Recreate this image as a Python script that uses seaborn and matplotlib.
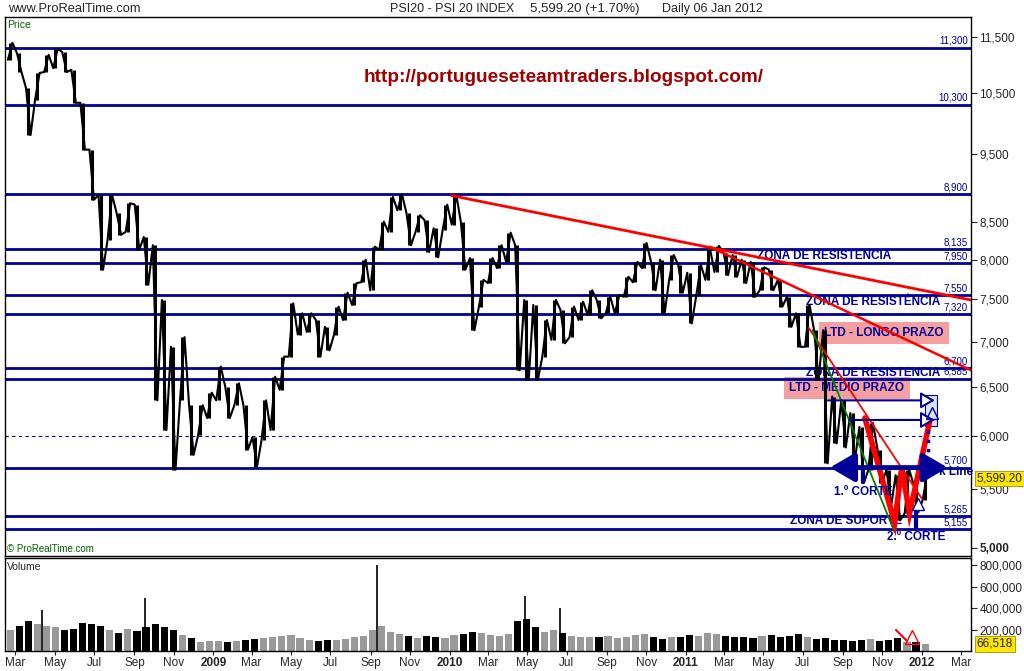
import matplotlib
matplotlib.use("Agg")
import matplotlib.pyplot as plt
import matplotlib.dates as mdates
from matplotlib.patches import Rectangle
from matplotlib.ticker import FixedLocator, NullLocator, FuncFormatter
import numpy as np
import pandas as pd
import seaborn as sns

# PSI 20, two-week price ranges (22 Feb 2008 .. 06 Jan 2012)
period_high = [11390, 11200, 10580, 10845, 11170, 11280, 11220, 10900, 10330, 9570,
               8890, 8890, 8630, 8770, 8750, 8300, 8190, 7490, 6940, 7050,
               6310, 6310, 6440, 6720, 6500, 6540, 6310, 5990, 6360, 6610,
               6830, 7450, 7330, 7330, 7250, 7170, 7410, 7580, 7700, 8000,
               8170, 8510, 8860, 8900, 8630, 8600, 8530, 8420, 8750, 8890,
               8510, 8020, 7740, 8020, 8190, 8360, 8190, 7490, 7430, 7250,
               7490, 7370, 7410, 7470, 7610, 7490, 7530, 7550, 7780, 7970,
               8220, 7970, 8000, 8060, 7930, 7830, 7930, 8150, 8180, 8090,
               8060, 8000, 7970, 7900, 7870, 7740, 7530, 7330, 7430, 7130,
               7130, 6400, 6360, 6230, 6090, 6130, 5870, 5680, 5630, 5680,
               5540, 5650]
period_low = [11080, 10860, 9800, 10380, 10860, 10930, 10860, 10330, 9570, 8820,
              7870, 8260, 8330, 8370, 8130, 7680, 6360, 6060, 5680, 6360,
              5820, 6010, 6180, 6360, 6180, 6310, 5870, 5710, 5960, 6060,
              6470, 6830, 7080, 7110, 6830, 6900, 7080, 7250, 7430, 7710,
              7610, 8130, 8370, 8670, 8190, 8370, 8100, 8030, 8400, 8470,
              7870, 7130, 7410, 7700, 7890, 7970, 6680, 6575, 6575, 6830,
              7020, 6980, 7050, 7250, 7310, 7270, 7330, 7330, 7530, 7710,
              7890, 7610, 7330, 7740, 7580, 7210, 7550, 7740, 7840, 7800,
              7780, 7700, 7530, 7610, 7610, 7410, 7170, 6940, 6940, 6575,
              5740, 5930, 5890, 5770, 5560, 5680, 5560, 5350, 5230, 5290,
              5300, 5410]
period_volume = [200000, 230000, 280000, 250000, 230000, 220000, 200000, 210000, 260000, 250000,
                 230000, 200000, 170000, 210000, 190000, 220000, 250000, 220000, 200000, 150000,
                 120000, 80000, 90000, 90000, 85000, 90000, 100000, 110000, 120000, 130000,
                 140000, 150000, 120000, 100000, 90000, 100000, 100000, 110000, 130000, 140000,
                 200000, 230000, 180000, 160000, 140000, 120000, 140000, 130000, 120000, 150000,
                 160000, 180000, 170000, 150000, 140000, 160000, 280000, 300000, 220000, 180000,
                 200000, 170000, 140000, 130000, 130000, 130000, 140000, 120000, 130000, 150000,
                 160000, 130000, 110000, 130000, 130000, 150000, 140000, 170000, 160000, 140000,
                 130000, 130000, 120000, 140000, 150000, 130000, 140000, 160000, 130000, 110000,
                 120000, 100000, 100000, 90000, 100000, 110000, 90000, 100000, 120000, 80000,
                 80000, 70000]
spike_dates = ["2008-04-11", "2008-09-18", "2009-09-11", "2010-04-28", "2010-06-21"]
spike_volume = [380000, 500000, 800000, 510000, 400000]
last_price = 5599.20
last_volume = 66518

level_values = [11300, 10300, 8900, 8135, 7950, 7550, 7320, 6700, 6585, 5700, 5265, 5155]
level_labels = ["11,300", "10,300", "8,900", "8,135", "7,950", "7,550", "7,320",
                "6,700", "6,585", "5,700", "5,265", "5,155"]
price_ticks = [11500, 10500, 9500, 8500, 8000, 7500, 7000, 6500, 6000, 5500, 5000]
volume_ticks = [200000, 400000, 600000, 800000]
month_labels = ["Mar", "May", "Jul", "Sep", "Nov", "2009", "Mar", "May", "Jul", "Sep", "Nov",
                "2010", "Mar", "May", "Jul", "Sep", "Nov", "2011", "Mar", "May", "Jul", "Sep",
                "Nov", "2012", "Mar"]

# trend lines drawn on the chart
ltd_long_dates, ltd_long_prices = ["2010-01-04", "2012-03-17"], [8880, 7490]
ltd_long2_dates, ltd_long2_prices = ["2011-02-07", "2012-03-17"], [8170, 6680]
ltd_mid_dates, ltd_mid_prices = ["2011-07-10", "2012-01-01"], [7160, 5420]
green_dates, green_prices = ["2011-07-16", "2011-11-20"], [7130, 5130]
w_dates = ["2011-10-05", "2011-11-20", "2011-12-01", "2011-12-13", "2012-01-13"]
w_prices = [6180, 5210, 5700, 5290, 6140]

NAVY = "#000099"
T = pd.Timestamp

dates = pd.date_range("2008-02-22", periods=len(period_high), freq="14D")
tick_dates = pd.date_range("2008-03-01", periods=len(month_labels), freq="2MS")

sns.set_style("white")
plt.rcParams["font.family"] = ["Liberation Sans", "DejaVu Sans"]

fig = plt.figure(figsize=(10.24, 6.71), dpi=100)
ax = fig.add_axes([5 / 1024, 115 / 671, 966 / 1024, 539 / 671])
axv = fig.add_axes([5 / 1024, 20 / 671, 966 / 1024, 93 / 671], sharex=ax)

# high-low bars plus a zig-zag through them to mimic the dense daily bars
highs = np.array(period_high)
lows = np.array(period_low)
mid = (highs + lows) / 2
falling = np.r_[False, np.diff(mid) < 0]
path_x, path_y = [], []
for d, h, l, f in zip(dates, highs, lows, falling):
    path_x += [d - pd.Timedelta(days=3.5), d + pd.Timedelta(days=3.5)]
    path_y += [h, l] if f else [l, h]
ax.vlines(dates, lows, highs, color="black", lw=2.2, zorder=4)
sns.lineplot(x=path_x, y=path_y, ax=ax, color="black", lw=1.5,
             estimator=None, sort=False, zorder=4)

ax.set_yscale("log")
ax.set_xlim(T("2008-02-14"), T("2012-03-17"))
ax.set_ylim(4935, 11880)

for lv, lb in zip(level_values, level_labels):
    ax.axhline(lv, color=NAVY, lw=2.0, zorder=2)
    ax.annotate(lb, xy=(0.997, lv), xycoords=ax.get_yaxis_transform(),
                xytext=(0, 1.5), textcoords="offset points",
                ha="right", va="bottom", fontsize=7, color=NAVY, zorder=3)
ax.axhline(6000, color=NAVY, lw=0.8, ls=(0, (3, 3)), zorder=2)

# trend lines
ax.plot([T(d) for d in ltd_long_dates], ltd_long_prices, color="red", lw=2.0, zorder=5)
ax.plot([T(d) for d in ltd_long2_dates], ltd_long2_prices, color="red", lw=1.8, zorder=5)
ax.plot([T(d) for d in ltd_mid_dates], ltd_mid_prices, color="red", lw=1.3, zorder=5)
ax.plot([T(d) for d in green_dates], green_prices, color="green", lw=1.3, zorder=5)
ax.plot([T(d) for d in w_dates], w_prices, color="red", lw=4, zorder=6, solid_joinstyle="miter")

# zone labels and boxes
zone = dict(color=NAVY, fontsize=8.5, fontweight="bold", ha="center", va="center", zorder=3)
ax.text(T("2011-08-03"), 8050, "ZONA DE RESISTENCIA", **zone)
ax.text(T("2011-10-17"), 7470, "ZONA DE RESISTÊNCIA", **zone)
ax.text(T("2011-10-17"), 6645, "ZONA DE RESISTENCIA", **zone)
ax.text(T("2011-09-06"), 5225, "ZONA DE SUPORTE", **zone)
ax.text(T("2011-10-03"), 5480, "1.º CORTE", **{**zone, "zorder": 7})
ax.text(T("2011-12-24"), 5090, "2.º CORTE", **{**zone, "zorder": 7})
ax.text(T("2012-01-27"), 5662, "k Line", **{**zone, "ha": "left", "zorder": 7})
box = dict(boxstyle="square,pad=0.45", fc="#F4A0A0", ec="none")
ax.text(T("2011-11-03"), 7100, "LTD - LONGO PRAZO", bbox=box, **{**zone, "zorder": 1})
ax.text(T("2011-09-07"), 6490, "LTD - MÉDIO PRAZO", bbox=box, **{**zone, "zorder": 1})

# neck line arrow and cut markers
ax.annotate("", xy=(T("2011-08-12"), 5700), xytext=(T("2012-02-10"), 5700),
            arrowprops=dict(arrowstyle="<|-|>,head_length=0.6,head_width=0.35",
                            color=NAVY, lw=3.5, mutation_scale=25, shrinkA=0, shrinkB=0),
            zorder=7)
ax.plot([T("2011-10-02")] * 2, [5700, 5570], color=NAVY, lw=3, zorder=7)
ax.plot([T("2011-12-23")] * 2, [5300, 5155], color=NAVY, lw=3, zorder=7)
for start, lv in [("2011-08-09", 6360), ("2011-09-11", 6160)]:
    ax.annotate("", xy=(T("2012-01-21"), lv), xytext=(T(start), lv),
                arrowprops=dict(arrowstyle="-|>,head_length=0.6,head_width=0.35",
                                ec=NAVY, fc="white", lw=1.5, mutation_scale=14,
                                shrinkA=0, shrinkB=0), zorder=6)
ax.add_patch(Rectangle((mdates.date2num(T("2012-01-06")), 6100), 18, 320,
                       fc="#DCE2F6", ec=NAVY, lw=0.8, zorder=5))
ax.plot([T("2012-01-16")], [6230], marker="^", ms=9, mfc="none", mec=NAVY, mew=1, zorder=7)
ax.plot([T("2011-12-26")], [5370], marker="^", ms=9, mfc="white", mec=NAVY, mew=1, zorder=7)
ax.plot([T("2012-01-10")] * 2, [6060, 5720], color=NAVY, lw=2.5, ls=":", zorder=7)

ax.yaxis.tick_right()
ax.yaxis.set_major_locator(FixedLocator(price_ticks))
ax.yaxis.set_minor_locator(NullLocator())
ax.yaxis.set_major_formatter(FuncFormatter(lambda v, p: f"{v:,.0f}"))
ax.tick_params(axis="y", length=4, direction="out", labelsize=8.5, pad=2, right=True)
ax.tick_params(axis="x", bottom=False, labelbottom=False)
ax.set_xlabel("")
ax.set_ylabel("")
fig.canvas.draw()
for lbl in ax.get_yticklabels():
    if lbl.get_text() == "5,000":
        lbl.set_fontweight("bold")
for s in ax.spines.values():
    s.set_color("black")
    s.set_linewidth(1.0)
ax.annotate(f"{last_price:,.2f}", xy=(1, last_price), xycoords=ax.get_yaxis_transform(),
            xytext=(4, 0), textcoords="offset points", ha="left", va="center", fontsize=8.5,
            bbox=dict(boxstyle="square,pad=0.15", fc="#FFE600", ec="#A09000", lw=0.6),
            annotation_clip=False, zorder=10)
ax.text(0.002, 0.995, "Price", transform=ax.transAxes, ha="left", va="top",
        fontsize=7.5, color="#006400")
ax.text(0.002, 0.003, "© ProRealTime.com", transform=ax.transAxes, ha="left", va="bottom",
        fontsize=7, color="#006400")

# volume panel
vol_colors = ["black" if f else "#999999" for f in falling]
axv.bar(dates, period_volume, width=11, color=vol_colors, linewidth=0)
axv.vlines([T(d) for d in spike_dates], 0, spike_volume, color="black", lw=1.2)
axv.set_ylim(0, 870000)
axv.yaxis.tick_right()
axv.yaxis.set_major_locator(FixedLocator(volume_ticks))
axv.yaxis.set_major_formatter(FuncFormatter(lambda v, p: f"{v:,.0f}"))
axv.tick_params(axis="y", length=4, direction="out", labelsize=8.5, pad=2, right=True)
axv.set_xticks(tick_dates)
axv.set_xticklabels(month_labels)
axv.tick_params(axis="x", length=3, direction="out", labelsize=8.5, pad=1, bottom=True)
for lbl in axv.get_xticklabels():
    if lbl.get_text().isdigit():
        lbl.set_fontweight("bold")
for s in axv.spines.values():
    s.set_color("black")
    s.set_linewidth(1.0)
axv.annotate(f"{last_volume:,}", xy=(1, last_volume), xycoords=axv.get_yaxis_transform(),
             xytext=(4, 0), textcoords="offset points", ha="left", va="center", fontsize=8.5,
             bbox=dict(boxstyle="square,pad=0.15", fc="#FFE600", ec="#A09000", lw=0.6),
             annotation_clip=False, zorder=10)
axv.plot([T("2011-11-22"), T("2011-12-09")], [197000, 94000], color="red", lw=1.5)
axv.plot([T("2011-12-17")], [130000], marker="^", ms=10, mfc="none", mec="red", mew=1)
axv.text(0.002, 0.96, "Volume", transform=axv.transAxes, ha="left", va="top", fontsize=7.5)

# header
fig.text(8 / 1024, 1 - 9 / 671, "www.ProRealTime.com", fontsize=9.3, va="center")
fig.text(390 / 1024, 1 - 9 / 671, "PSI20 - PSI 20 INDEX", fontsize=9, va="center")
fig.text(530 / 1024, 1 - 9 / 671, "5,599.20 (+1.70%)", fontsize=9.5, va="center")
fig.text(662 / 1024, 1 - 9 / 671, "Daily 06 Jan 2012", fontsize=9, va="center")
fig.text(564 / 1024, 1 - 77 / 671, "http://portugueseteamtraders.blogspot.com/",
         fontsize=13.7, fontweight="bold", color="#A00000", ha="center", va="center")

fig.savefig("out.png", dpi=100)
